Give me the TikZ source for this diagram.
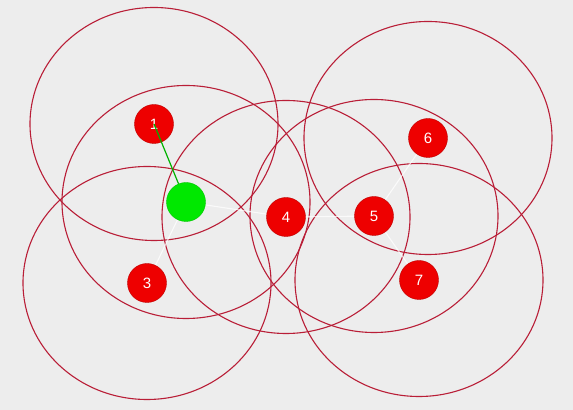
\documentclass[tikz,border=0pt]{standalone}
\usepackage{fontspec}
\setsansfont{Liberation Sans}
\usetikzlibrary{backgrounds}
\definecolor{canvasgrey}{RGB}{237,237,237}
\definecolor{radiocol}{RGB}{185,30,55}
\definecolor{nodered}{RGB}{238,0,0}
\definecolor{nodegreen}{RGB}{0,232,0}
\tikzset{
  sensor/.style={circle,fill=nodered,draw=nodered!80!black,line width=.2pt,
                 minimum size=19.5pt,inner sep=0pt,text=white,
                 font=\sffamily\fontsize{7.5}{8}\selectfont},
  sink/.style={sensor,fill=nodegreen,draw=nodegreen!85!black},
  radio/.style={draw=radiocol,line width=.55pt},
  hop/.style={draw=white,line width=.55pt,draw opacity=.75},
  route/.style={draw=green!70!black,line width=.6pt},
}

\begin{document}
\begin{tikzpicture}[x=0.5pt,y=-0.5pt]
  \useasboundingbox (0,0) rectangle (573,410);
  \node[sensor] (n1) at (154,124) {1};
  \node[sink]   (g)  at (186,202) {};
  \node[sensor] (n3) at (147,283) {3};
  \node[sensor] (n4) at (286,217) {4};
  \node[sensor] (n5) at (374,216) {5};
  \node[sensor] (n6) at (428,138) {6};
  \node[sensor] (n7) at (419,280) {7};
  \draw[route] (n1.center) -- (g);
  \begin{scope}[on background layer]
    \fill[canvasgrey] (0,0) rectangle (573,410);
    \foreach \n in {n1,g,n3,n4,n5,n6,n7}
      {\draw[radio] (\n.center) ellipse [x radius=62pt,y radius=58.25pt];}
    \foreach \a/\b in {g/n3,g/n4,n4/n5,n5/n6,n5/n7}
      {\draw[hop] (\a) -- (\b);}
  \end{scope}
\end{tikzpicture}
\end{document}
